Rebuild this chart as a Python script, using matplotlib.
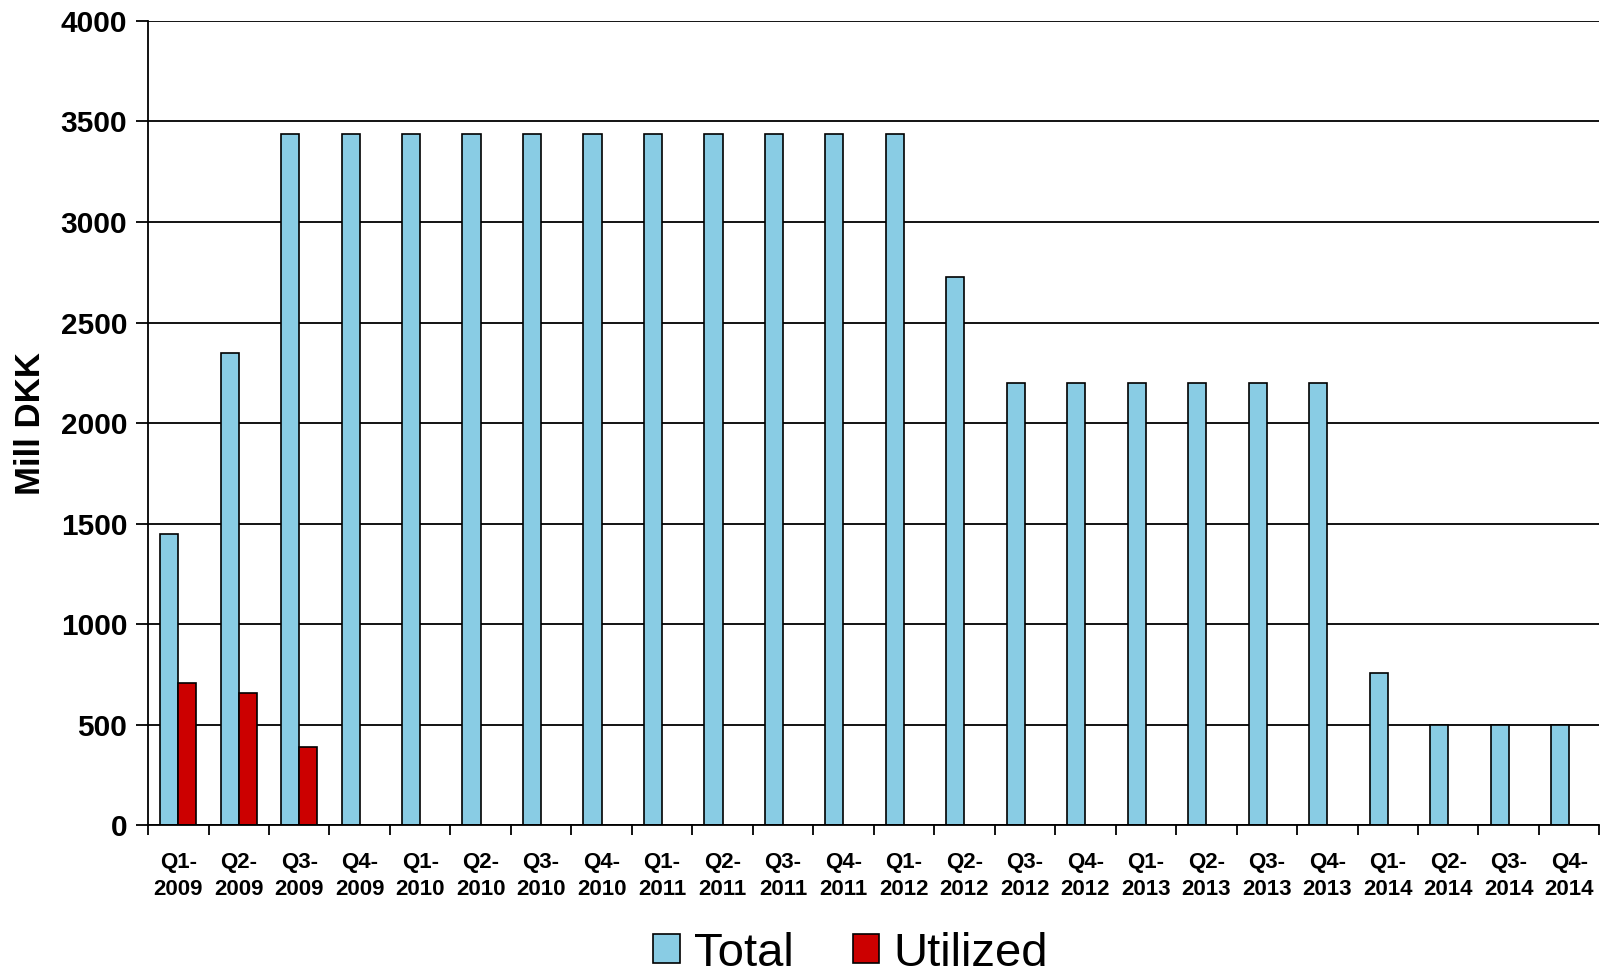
import matplotlib
matplotlib.use("Agg")
import matplotlib.pyplot as plt
import numpy as np

plt.rcParams['font.family'] = ['Liberation Sans', 'DejaVu Sans']

quarters = ["Q1-\n2009", "Q2-\n2009", "Q3-\n2009", "Q4-\n2009",
            "Q1-\n2010", "Q2-\n2010", "Q3-\n2010", "Q4-\n2010",
            "Q1-\n2011", "Q2-\n2011", "Q3-\n2011", "Q4-\n2011",
            "Q1-\n2012", "Q2-\n2012", "Q3-\n2012", "Q4-\n2012",
            "Q1-\n2013", "Q2-\n2013", "Q3-\n2013", "Q4-\n2013",
            "Q1-\n2014", "Q2-\n2014", "Q3-\n2014", "Q4-\n2014"]
total = [1450, 2350, 3440, 3440, 3440, 3440, 3440, 3440, 3440, 3440, 3440, 3440,
         3440, 2725, 2200, 2200, 2200, 2200, 2200, 2200, 755, 500, 500, 500]
utilized = [705, 655, 390, 0, 0, 0, 0, 0, 0, 0, 0, 0,
            0, 0, 0, 0, 0, 0, 0, 0, 0, 0, 0, 0]

fig = plt.figure(figsize=(16.02, 9.8), dpi=100)
ax = fig.add_axes([0.0924, 0.158, 0.906, 0.8206])

x = np.arange(len(quarters))
w = 0.3
ax.bar(x - w / 2, total, w, color="#89CCE4", edgecolor="black", linewidth=1.2,
       label="Total", zorder=3)
# only draw the non-zero utilized bars so no stray edges appear at zero
util = np.array(utilized)
mask = util > 0
ax.bar(x[mask] + w / 2, util[mask], w, color="#CC0000", edgecolor="black",
       linewidth=1.2, label="Utilized", zorder=3)

ax.set_xlim(-0.5, len(quarters) - 0.5)
ax.set_ylim(0, 4000)
ax.set_yticks(np.arange(0, 4001, 500))
ax.yaxis.grid(True, color="black", linewidth=1.3, zorder=0)
ax.set_axisbelow(True)

ax.set_xticks(x)
ax.set_xticklabels(quarters, fontsize=16, fontweight="bold", linespacing=1.4)
ax.set_xticks(np.arange(-0.5, len(quarters), 1), minor=True)
ax.tick_params(axis="x", which="major", length=0, pad=19)
ax.tick_params(axis="x", which="minor", length=7, width=1.3)
ax.tick_params(axis="y", length=9, width=1.3, labelsize=21.5, pad=6)
for lab in ax.get_yticklabels():
    lab.set_fontweight("bold")

for side in ["top", "right"]:
    ax.spines[side].set_visible(False)
for side in ["left", "bottom"]:
    ax.spines[side].set_linewidth(1.3)
    ax.spines[side].set_zorder(4)

ax.set_ylabel("Mill DKK", fontsize=25, fontweight="bold", labelpad=10)

fig.legend(loc="center", bbox_to_anchor=(0.531, 0.027), ncol=2, frameon=False,
           fontsize=34, handlelength=0.56, handleheight=0.56, handletextpad=0.3,
           columnspacing=1.25, borderpad=0)

fig.savefig("out.png", dpi=100)
plt.close(fig)
